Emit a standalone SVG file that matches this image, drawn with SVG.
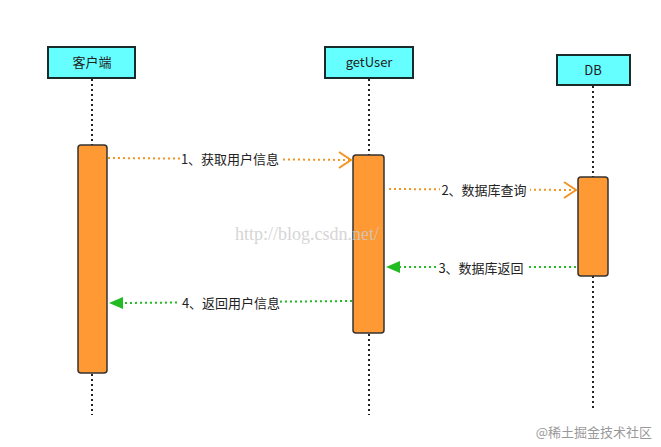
<svg xmlns="http://www.w3.org/2000/svg" width="661" height="447" viewBox="0 0 661 447">
<style>
.hd{fill:#66ffff;stroke:#1a2b2b;stroke-width:2}
.act{fill:#ff9933;stroke:#333;stroke-width:1.5}
.life{stroke:#222;stroke-width:2;stroke-dasharray:2 3}
.t{font-family:"Noto Sans CJK SC","Liberation Sans",sans-serif;font-size:13px;fill:#222}
.or{stroke:#f39322;stroke-width:2;stroke-dasharray:2 3;fill:none}
.gr{stroke:#22bb22;stroke-width:2;stroke-dasharray:2 3;fill:none}
.lb{fill:#fff}
</style>
<rect width="661" height="447" fill="#fff"/>
<g id="lifelines">
<line class="life" x1="92" y1="79" x2="92" y2="415"/>
<line class="life" x1="369" y1="79" x2="369" y2="415"/>
<line class="life" x1="593" y1="86" x2="593" y2="410"/>
</g>
<g id="client"><rect class="hd" x="48" y="47" width="87" height="31"/><text class="t" x="92" y="67" text-anchor="middle">客户端</text><rect class="act" x="78" y="145" width="29" height="228" rx="3"/></g>
<g id="getUser"><rect class="hd" x="325" y="47" width="88" height="31"/><text class="t" x="369" y="67" text-anchor="middle">getUser</text><rect class="act" x="353" y="155" width="31" height="178" rx="3"/></g>
<g id="db"><rect class="hd" x="557" y="55" width="73" height="30"/><text class="t" x="593" y="75" text-anchor="middle">DB</text><rect class="act" x="578" y="177" width="30" height="99" rx="3"/></g>
<g id="connectors">
<line class="or" x1="108" y1="158" x2="350" y2="160"/><path d="M339 152 L351 160 L339 168" stroke="#f39322" stroke-width="2" fill="none"/>
<rect class="lb" x="180" y="150" width="100" height="18"/><text class="t" x="230" y="164" text-anchor="middle">1、获取用户信息</text>
<line class="or" x1="389" y1="189" x2="575" y2="190"/><path d="M564 182 L576 190 L564 198" stroke="#f39322" stroke-width="2" fill="none"/>
<rect class="lb" x="440" y="181" width="90" height="18"/><text class="t" x="484" y="195" text-anchor="middle">2、数据库查询</text>
<line class="gr" x1="576" y1="267" x2="398" y2="267"/><path d="M386 267 L400 261 L400 273 Z" fill="#22bb22"/>
<rect class="lb" x="436" y="259" width="90" height="18"/><text class="t" x="481" y="273" text-anchor="middle">3、数据库返回</text>
<line class="gr" x1="352" y1="301" x2="122" y2="303"/><path d="M109 303 L123 297 L123 309 Z" fill="#22bb22"/>
<rect class="lb" x="180" y="294" width="100" height="18"/><text class="t" x="231" y="308" text-anchor="middle">4、返回用户信息</text>
</g>
<text x="235" y="240" font-family="Liberation Serif,serif" font-size="18" fill="#ccc" opacity="0.8">http://blog.csdn.net/</text>
<text x="652" y="437" text-anchor="end" font-family="Noto Sans CJK SC,sans-serif" font-size="13" fill="#999">@稀土掘金技术社区</text>
</svg>
